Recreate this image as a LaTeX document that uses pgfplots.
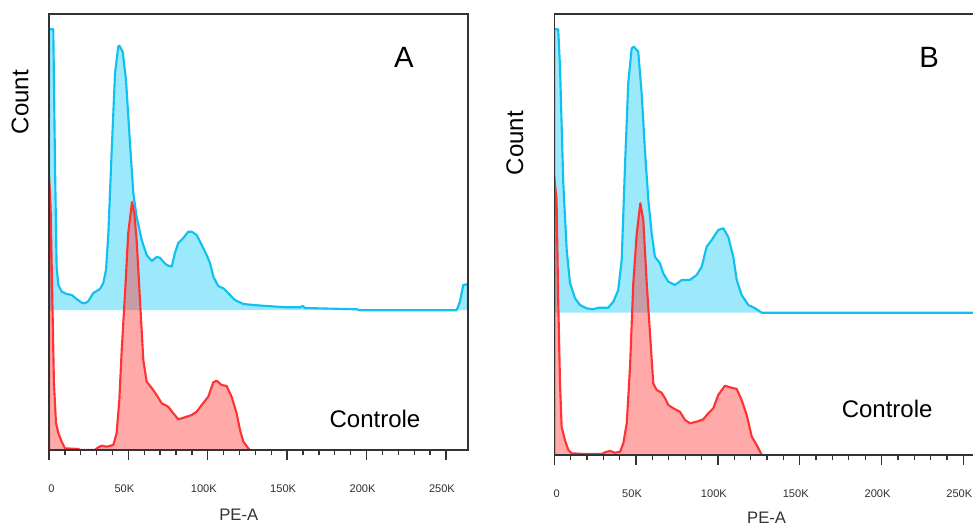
\documentclass[border=0pt]{standalone}
\usepackage{pgfplots}
\pgfplotsset{compat=1.18}
\usepackage{pgfplotstable}
\usepackage{fontspec}
\setmainfont{Liberation Sans}

\definecolor{bluefill}{RGB}{157,233,252}
\definecolor{blueline}{RGB}{16,192,240}
\definecolor{redline}{RGB}{255,51,51}
\definecolor{frame}{RGB}{51,51,51}

% x in thousands (PE-A), y = count (arbitrary units, blue is offset upwards)
\pgfplotstableread{
x y
0 140
0 420.7
2.7 420.7
3.8 283.3
4.8 183.3
5.9 165
8.0 158.3
11.1 156
14.3 155
17.4 151
20.6 147.3
22.7 146.7
24.8 149
27.9 157
32.1 161
34.2 167
35.9 180
37.4 217
39.5 300
41.6 377
43.6 403.3
44.3 404.3
46.4 398.3
48.5 370
51.0 307
53.1 257
55.2 233
58.4 210
61.5 195
64.7 189
67.8 193
69.9 192.3
72.0 188.3
74.1 185
77.3 183.3
79.3 197
81.4 207
84.6 212
87.7 218.3
89.9 218.3
93.0 215
96.2 205
99.3 195
101.4 187
103.5 173.3
106.6 164
109.8 161.7
114.0 155
117.1 150
122.4 146
128.7 145
137.1 144
149.7 142.7
158.1 142.7
159.8 144
161.2 142
179.0 141.3
193.8 140.7
195.8 139.7
256.7 139.7
258.8 148.3
260.9 165
263.0 165.7
263.9 165.7
263.9 140
}\blueA

\pgfplotstableread{
x y
0 0
0 275
1.0 243.3
2.1 150
3.1 67
4.4 27
5.9 17
8.0 8.3
10.1 1.7
18.5 1
19.5 0
29.0 0
31.0 2.7
33.2 4.3
36.3 3.3
40.5 5
42.6 17
44.3 50
45.8 100
47.9 157
49.9 217
52.3 248
53.7 237
55.2 210
57.3 150
59.4 90
61.5 68.3
64.7 62
67.8 55
71.0 46.7
75.1 43.3
78.3 36.7
81.4 30.7
85.6 32.7
89.9 35
93.0 38.3
96.2 45
100.3 53.3
103.5 67.7
105.6 69.3
108.7 65
111.9 64
115.0 53.3
118.2 36.7
120.3 20
122.4 8.3
125.5 1.7
126.6 0
}\redA

\pgfplotstableread{
x y
0 142.3
0 425.7
2.4 425.7
3.5 388.3
5.5 272
7.6 205
9.6 172
12.7 156.7
15.7 150
19.8 146.7
23.8 145.7
26.9 147.3
33.0 147.3
36.1 153.3
39.1 165
41.2 195
43.2 288.3
45.2 371.7
47.3 406.7
48.7 408.3
51.3 403.3
53.4 361.7
55.4 305
57.5 255
59.5 222
61.5 198.3
64.6 191.7
66.6 181.7
69.7 173.3
73.8 170
77.9 175
82.9 175
87.0 180
90.1 188.3
93.1 208.3
96.2 215
100.2 225
103.3 226.7
106.3 218.3
109.4 198.3
111.5 175
114.5 160
118.6 150
122.7 146.7
126.8 142.3
262.1 142.3
}\blueB

\pgfplotstableread{
x y
0 0
0 278.3
1.4 255
2.4 155
3.5 72
4.5 28.3
6.5 15
8.6 5
10.6 1.7
18.8 1
29.0 1
31.0 2.7
34.0 4
37.1 2.3
40.2 3.3
42.2 11.7
44.3 31.7
46.3 88.3
48.3 171.7
50.4 221.7
52.6 251.7
54.4 235
56.5 171.7
58.5 121.7
60.5 71.7
62.6 65
65.6 62.3
67.7 56.7
69.7 50
72.7 46.7
76.8 43.3
79.9 35
82.9 31.7
87.0 33.3
91.1 35.7
94.1 41.7
97.2 46.7
100.2 60
104.3 69.3
107.4 67.7
111.5 66
114.5 55
117.6 40
120.7 18.3
123.7 10
126.8 0
}\redB

\pgfplotsset{
  flow/.style={
    scale only axis,
    axis on top,
    ymin=0,
    xmin=0,
    axis line style={draw=frame, line width=0.9pt},
    xtick={0,50,100,150,200,250},
    xticklabels={\makebox[0pt][l]{\hspace{2.5pt}0},50K,100K,150K,200K,250K},
    minor x tick num=4,
    xtick pos=bottom,
    tick align=outside,
    major tick length=7.5pt,
    minor tick length=4pt,
    every tick/.style={draw=frame, line width=1pt},
    ytick=\empty,
    /pgf/number format/assume math mode=true,
    xticklabel style={font=\fontsize{8.3}{10}\selectfont, text=black!82, anchor=north, yshift=-15pt, xshift=-3pt},
    xlabel={PE-A},
    ylabel={Count},
    xlabel style={font=\fontsize{12.5}{15}\selectfont, text=black!80, anchor=center},
    ylabel style={font=\fontsize{18}{21}\selectfont, anchor=center},
  },
  bfill/.style={draw=none, fill=bluefill},
  bline/.style={draw=blueline, line width=1.6pt, line join=round},
  rfill/.style={draw=none, fill=redline, fill opacity=0.42},
  rline/.style={draw=redline, line width=1.6pt, line join=round},
}

\begin{document}
\begin{tikzpicture}
\useasboundingbox (0,0) rectangle (729.75pt,394.5pt);

\begin{axis}[flow,
  at={(36.75pt,57pt)}, anchor=south west,
  width=314.25pt, height=327pt,
  xmax=263.9, ymax=436,
  xlabel style={at={(axis description cs:0.453,-0.149)}},
  ylabel style={at={(axis description cs:-0.069,0.798)}},
]
\addplot[bfill] table {\blueA} -- cycle;
\addplot[rfill] table {\redA} -- cycle;
\addplot[bline] table {\blueA};
\addplot[rline] table {\redA};
\node[font=\fontsize{22}{26}\selectfont] at (rel axis cs:0.847,0.901) {A};
\node[font=\fontsize{18}{21}\selectfont] at (rel axis cs:0.778,0.071) {Controle};
\end{axis}

\begin{axis}[flow,
  at={(415.7pt,53.25pt)}, anchor=south west,
  width=321.7pt, height=330.75pt,
  xmax=262.144, ymax=441,
  xlabel style={at={(axis description cs:0.495,-0.143)}},
  ylabel style={at={(axis description cs:-0.0916,0.707)}},
]
\addplot[bfill] table {\blueB} -- cycle;
\addplot[rfill] table {\redB} -- cycle;
\addplot[bline] table {\blueB};
\addplot[rline] table {\redB};
\node[font=\fontsize{22}{26}\selectfont] at (rel axis cs:0.874,0.902) {B};
\node[font=\fontsize{18}{21}\selectfont] at (rel axis cs:0.776,0.104) {Controle};
\end{axis}
\end{tikzpicture}
\end{document}
